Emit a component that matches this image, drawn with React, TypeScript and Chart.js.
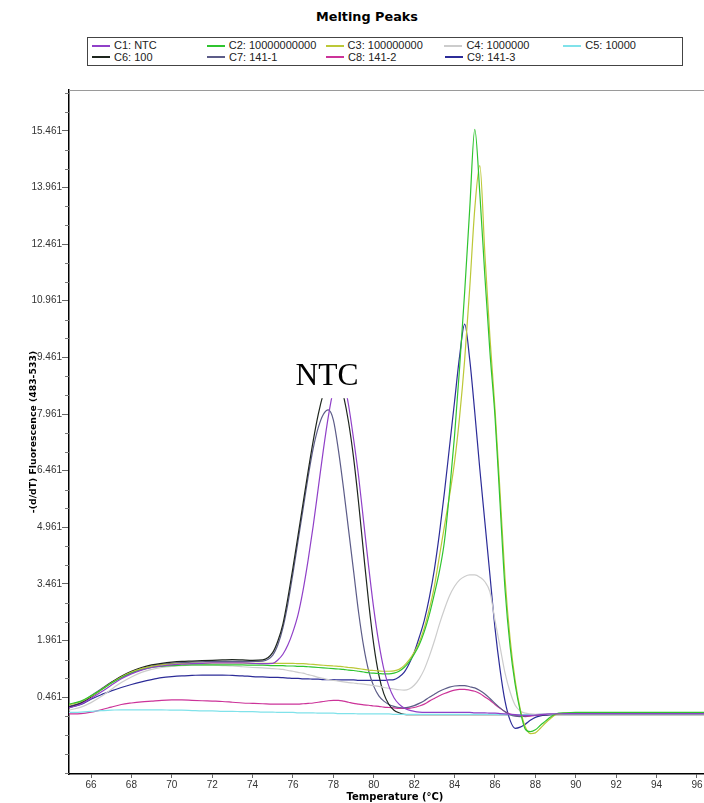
import { useEffect, useRef } from 'react';
import { Chart, registerables } from 'chart.js';

Chart.register(...registerables);

// Temperature grid (°C)
const TEMPS = [
  64.9, 65.5, 66, 66.5, 67, 67.5, 68, 68.5, 69, 69.5, 70, 70.5, 71, 71.5, 72, 72.5, 73, 73.5, 74, 74.5,
  75, 75.25, 75.5, 75.75, 76, 76.25, 76.5, 76.75,
  77, 77.25, 77.5, 77.75, 78, 78.25, 78.5, 78.75,
  79, 79.25, 79.5, 79.75, 80, 80.25, 80.5, 80.75,
  81, 81.25, 81.5, 81.75, 82, 82.25, 82.5, 82.75,
  83, 83.25, 83.5, 83.75, 84, 84.25, 84.5, 84.75,
  85, 85.25, 85.5, 85.75, 86, 86.25, 86.5, 86.75,
  87, 87.25, 87.5, 87.75, 88, 88.25, 88.5, 88.75,
  89,
  89.5, 90, 91, 92, 93, 94, 95, 96, 97, 97.5,
];

const C1_NTC = [
  0.18, 0.28, 0.43, 0.60, 0.78, 0.95, 1.08, 1.18, 1.25, 1.29, 1.32, 1.34, 1.35, 1.36, 1.37, 1.37, 1.37, 1.37, 1.36, 1.35,
  1.36, 1.45, 1.60, 1.85, 2.20, 2.65, 3.30, 4.10,
  5.00, 6.00, 7.00, 7.90, 8.60, 9.00, 8.85, 8.20,
  7.30, 6.30, 5.10, 3.90, 2.80, 1.90, 1.20, 0.75,
  0.45, 0.28, 0.18, 0.12, 0.09, 0.07, 0.06, 0.06,
  0.06, 0.06, 0.06, 0.06, 0.06, 0.06, 0.06, 0.06,
  0.05, 0.05, 0.05, 0.04, 0.04, 0.03, 0.02, 0.01,
  0.00, -0.01, -0.02, -0.02, -0.01, 0.00, 0.01, 0.02,
  0.02,
  0.03, 0.03, 0.03, 0.03, 0.03, 0.03, 0.03, 0.03, 0.03, 0.03,
];

const C2_1E10 = [
  0.28, 0.36, 0.50, 0.66, 0.83, 0.98, 1.10, 1.19, 1.25, 1.28, 1.30, 1.31, 1.32, 1.32, 1.32, 1.32, 1.32, 1.32, 1.31, 1.31,
  1.30, 1.30, 1.30, 1.29, 1.29, 1.28, 1.28, 1.27,
  1.26, 1.25, 1.24, 1.23, 1.22, 1.21, 1.20, 1.18,
  1.17, 1.15, 1.13, 1.11, 1.10, 1.09, 1.08, 1.08,
  1.10, 1.15, 1.25, 1.40, 1.60, 1.85, 2.20, 2.65,
  3.20, 3.80, 4.60, 5.90, 7.40, 9.20, 11.20, 13.40,
  15.50, 13.80, 11.60, 9.60, 7.90, 5.60, 3.30, 1.80,
  0.80, 0.10, -0.38, -0.45, -0.40, -0.28, -0.17, -0.06,
  0.02,
  0.05, 0.06, 0.06, 0.06, 0.06, 0.06, 0.06, 0.06, 0.06, 0.06,
];

const C3_1E8 = [
  0.26, 0.35, 0.49, 0.66, 0.84, 1.00, 1.13, 1.22, 1.28, 1.32, 1.34, 1.35, 1.36, 1.36, 1.37, 1.37, 1.37, 1.37, 1.36, 1.36,
  1.36, 1.36, 1.36, 1.36, 1.36, 1.35, 1.35, 1.34,
  1.33, 1.32, 1.31, 1.30, 1.29, 1.28, 1.27, 1.25,
  1.24, 1.22, 1.20, 1.18, 1.17, 1.16, 1.15, 1.15,
  1.16, 1.20, 1.30, 1.45, 1.65, 1.92, 2.30, 2.80,
  3.40, 4.20, 5.00, 5.80, 6.70, 7.90, 9.40, 11.30,
  13.40, 14.54, 12.20, 10.00, 8.10, 5.90, 3.60, 2.00,
  0.90, 0.15, -0.32, -0.50, -0.48, -0.36, -0.22, -0.10,
  0.00,
  0.04, 0.05, 0.05, 0.05, 0.05, 0.05, 0.05, 0.05, 0.05, 0.05,
];

const C4_1E6 = [
  0.12, 0.20, 0.32, 0.48, 0.67, 0.85, 1.00, 1.12, 1.20, 1.25, 1.28, 1.30, 1.31, 1.31, 1.31, 1.30, 1.29, 1.27, 1.25, 1.24,
  1.22, 1.21, 1.20, 1.17, 1.15, 1.12, 1.10, 1.06,
  1.03, 0.99, 0.96, 0.93, 0.91, 0.89, 0.87, 0.85,
  0.84, 0.82, 0.81, 0.79, 0.77, 0.75, 0.72, 0.70,
  0.68, 0.66, 0.65, 0.68, 0.78, 0.95, 1.20, 1.55,
  1.95, 2.40, 2.80, 3.15, 3.40, 3.57, 3.66, 3.70,
  3.70, 3.64, 3.52, 3.25, 2.50, 1.80, 1.10, 0.60,
  0.25, 0.10, 0.04, 0.02, 0.01, 0.01, 0.01, 0.02,
  0.02,
  0.02, 0.02, 0.02, 0.02, 0.02, 0.02, 0.02, 0.02, 0.02, 0.02,
];

const C5_1E4 = [
  0.06, 0.07, 0.09, 0.11, 0.12, 0.13, 0.13, 0.13, 0.13, 0.13, 0.12, 0.12, 0.11, 0.10, 0.10, 0.09, 0.09, 0.08, 0.08, 0.07,
  0.07, 0.06, 0.06, 0.06, 0.06, 0.05, 0.05, 0.05,
  0.05, 0.04, 0.04, 0.04, 0.04, 0.03, 0.03, 0.03,
  0.03, 0.02, 0.02, 0.02, 0.02, 0.02, 0.02, 0.02,
  0.01, 0.01, 0.01, 0.01, 0.01, 0.01, 0.01, 0.01,
  0.01, 0.01, 0.01, 0.01, 0.01, 0.01, 0.01, 0.01,
  0.01, 0.01, 0.01, 0.01, 0.01, 0.00, 0.00, 0.00,
  0.00, 0.00, 0.00, 0.00, 0.00, 0.01, 0.01, 0.02,
  0.02,
  0.02, 0.02, 0.02, 0.02, 0.02, 0.02, 0.02, 0.02, 0.02, 0.02,
];

const C6_100 = [
  0.20, 0.30, 0.47, 0.66, 0.85, 1.02, 1.15, 1.25, 1.32, 1.36, 1.39, 1.41, 1.42, 1.43, 1.44, 1.45, 1.46, 1.45, 1.44, 1.45,
  1.65, 1.95, 2.40, 3.10, 3.90, 4.75, 5.60, 6.45,
  7.25, 7.95, 8.50, 8.90, 9.05, 8.95, 8.45, 7.75,
  6.80, 5.60, 4.25, 2.95, 1.85, 1.05, 0.55, 0.27,
  0.12, 0.05, 0.01, 0.00, 0.00, 0.00, 0.00, 0.00,
  0.00, 0.00, 0.00, 0.00, 0.00, 0.00, 0.00, 0.00,
  0.00, 0.00, 0.00, 0.00, 0.00, 0.00, 0.00, 0.00,
  0.00, 0.00, 0.00, 0.00, 0.00, 0.00, 0.00, 0.00,
  0.00,
  0.00, 0.00, 0.00, 0.00, 0.00, 0.00, 0.00, 0.00, 0.00, 0.00,
];

const C7_141_1 = [
  0.22, 0.32, 0.50, 0.68, 0.86, 1.00, 1.12, 1.22, 1.29, 1.33, 1.36, 1.38, 1.39, 1.40, 1.41, 1.41, 1.41, 1.41, 1.41, 1.42,
  1.58, 1.85, 2.30, 2.95, 3.75, 4.60, 5.45, 6.30,
  7.05, 7.60, 7.95, 8.07, 7.80, 7.00, 6.00, 4.90,
  3.80, 2.70, 1.80, 1.15, 0.75, 0.50, 0.36, 0.27,
  0.22, 0.19, 0.18, 0.20, 0.24, 0.30, 0.37, 0.46,
  0.54, 0.62, 0.68, 0.73, 0.76, 0.77, 0.77, 0.74,
  0.71, 0.64, 0.55, 0.43, 0.30, 0.18, 0.08, 0.00,
  -0.04, -0.05, -0.04, -0.02, 0.00, 0.01, 0.01, 0.02,
  0.02,
  0.02, 0.02, 0.02, 0.02, 0.02, 0.02, 0.02, 0.02, 0.02, 0.02,
];

const C8_141_2 = [
  0.02, 0.03, 0.07, 0.13, 0.20, 0.27, 0.31, 0.34, 0.36, 0.38, 0.39, 0.39, 0.38, 0.37, 0.36, 0.35, 0.33, 0.31, 0.30, 0.29,
  0.28, 0.28, 0.28, 0.28, 0.28, 0.28, 0.29, 0.30,
  0.31, 0.33, 0.35, 0.37, 0.38, 0.38, 0.36, 0.33,
  0.30, 0.28, 0.26, 0.25, 0.23, 0.22, 0.20, 0.19,
  0.18, 0.17, 0.17, 0.17, 0.19, 0.23, 0.28, 0.36,
  0.43, 0.50, 0.56, 0.61, 0.65, 0.67, 0.67, 0.65,
  0.62, 0.56, 0.47, 0.38, 0.27, 0.17, 0.08, 0.02,
  -0.02, -0.04, -0.05, -0.04, -0.02, 0.00, 0.01, 0.02,
  0.02,
  0.02, 0.02, 0.02, 0.02, 0.02, 0.02, 0.02, 0.02, 0.02, 0.02,
];

const C9_141_3 = [
  0.19, 0.27, 0.41, 0.53, 0.63, 0.72, 0.80, 0.87, 0.93, 0.98, 1.01, 1.03, 1.04, 1.05, 1.05, 1.05, 1.04, 1.03, 1.01, 1.00,
  0.99, 0.99, 0.98, 0.97, 0.96, 0.96, 0.95, 0.95,
  0.94, 0.94, 0.93, 0.93, 0.93, 0.92, 0.92, 0.92,
  0.92, 0.91, 0.91, 0.91, 0.91, 0.91, 0.91, 0.92,
  0.93, 1.00, 1.12, 1.35, 1.65, 2.05, 2.50, 3.10,
  3.85, 4.80, 5.90, 7.10, 8.30, 9.50, 10.34, 9.40,
  8.00, 6.50, 5.10, 3.70, 2.30, 1.20, 0.35, -0.15,
  -0.36, -0.33, -0.25, -0.15, -0.07, -0.03, -0.01, 0.00,
  0.01,
  0.02, 0.02, 0.02, 0.02, 0.02, 0.02, 0.02, 0.02, 0.02, 0.02,
];

const SERIES = [C1_NTC, C2_1E10, C3_1E8, C4_1E6, C5_1E4, C6_100, C7_141_1, C8_141_2, C9_141_3];
const SERIES_LABELS = [
  'C1: NTC', 'C2: 10000000000', 'C3: 100000000', 'C4: 1000000', 'C5: 10000',
  'C6: 100', 'C7: 141-1', 'C8: 141-2', 'C9: 141-3',
];
const SERIES_COLORS = [
  '#9040c8', '#2fc42f', '#bcc838', '#cccccc', '#80e2ea',
  '#1e261e', '#5c5c88', '#cc3399', '#2c2c98',
];

const X_TICKS = [66, 68, 70, 72, 74, 76, 78, 80, 82, 84, 86, 88, 90, 92, 94, 96];
const Y_TICKS = [0.461, 1.961, 3.461, 4.961, 6.461, 7.961, 9.461, 10.961, 12.461, 13.961, 15.461];
const Y_MINOR = [
  -1.539, -1.039, -0.539, -0.039, 0.961, 1.461, 2.461, 2.961, 3.961, 4.461, 5.461, 5.961,
  6.961, 7.461, 8.461, 8.961, 9.961, 10.461, 11.461, 11.961, 12.961, 13.461, 14.461, 14.961,
  15.961, 16.461,
];

// NTC annotation (data units) and white cover box over peak tops
const NTC_LABEL = { text: 'NTC', t: 77.68, v: 8.72 };
const COVER_T = [77.05, 79.25];
const COVER_V = [8.38, 9.9];

const X_RANGE = [64.91, 97.19];
const Y_RANGE = [-1.57, 16.54];

const extrasPlugin = {
  id: 'extras',
  afterDatasetsDraw(chart: any) {
    const { ctx, scales } = chart;
    const x = scales.x;
    const y = scales.y;
    ctx.save();
    const x0 = x.getPixelForValue(COVER_T[0]);
    const x1 = x.getPixelForValue(COVER_T[1]);
    const y0 = y.getPixelForValue(COVER_V[1]);
    const y1 = y.getPixelForValue(COVER_V[0]);
    ctx.fillStyle = '#ffffff';
    ctx.fillRect(x0, y0, x1 - x0, y1 - y0);
    ctx.fillStyle = '#000000';
    ctx.font = '31.5px "Liberation Serif", "Times New Roman", serif';
    ctx.textAlign = 'center';
    ctx.textBaseline = 'alphabetic';
    ctx.fillText(NTC_LABEL.text, x.getPixelForValue(NTC_LABEL.t), y.getPixelForValue(NTC_LABEL.v));
    ctx.restore();
  },
  afterDraw(chart: any) {
    const { ctx, chartArea, scales } = chart;
    const y = scales.y;
    ctx.save();
    ctx.strokeStyle = '#777777';
    ctx.lineWidth = 1;
    ctx.beginPath();
    for (const v of Y_MINOR) {
      const py = Math.round(y.getPixelForValue(v)) + 0.5;
      if (py < chartArea.top || py > chartArea.bottom) continue;
      ctx.moveTo(chartArea.left - 4, py);
      ctx.lineTo(chartArea.left, py);
    }
    ctx.stroke();
    ctx.strokeStyle = '#9a9a9a';
    ctx.beginPath();
    ctx.moveTo(chartArea.left, chartArea.top + 0.5);
    ctx.lineTo(chartArea.right, chartArea.top + 0.5);
    ctx.stroke();
    ctx.restore();
  },
};

function Legend() {
  const rows = [SERIES_LABELS.slice(0, 5), SERIES_LABELS.slice(5)];
  return (
    <div
      style={{
        position: 'absolute', left: 87, top: 37, width: 594, height: 25,
        border: '1px solid #444', background: '#fff', paddingTop: 2, boxSizing: 'content-box',
      }}
    >
      {rows.map((row, r) => (
        <div key={r} style={{ display: 'flex', height: 11.5 }}>
          {row.map((lab, c) => {
            const idx = r * 5 + c;
            return (
              <div key={lab} style={{ width: 119, display: 'flex', alignItems: 'center', paddingLeft: c === 0 ? 4 : 0, boxSizing: 'border-box' }}>
                <div style={{ width: 18, height: 2, background: SERIES_COLORS[idx], marginRight: 4, flex: 'none' }} />
                <span style={{ font: '11px "Liberation Sans", Arial, sans-serif', color: '#222', lineHeight: '11.5px', whiteSpace: 'nowrap' }}>{lab}</span>
              </div>
            );
          })}
        </div>
      ))}
    </div>
  );
}

export default function App() {
  const canvasRef = useRef<HTMLCanvasElement | null>(null);

  useEffect(() => {
    const canvas = canvasRef.current;
    if (!canvas) return;
    const chart = new Chart(canvas, {
      type: 'line',
      data: {
        datasets: SERIES.map((vals, i) => ({
          label: SERIES_LABELS[i],
          data: TEMPS.map((t, j) => ({ x: t, y: vals[j] })),
          borderColor: SERIES_COLORS[i],
          backgroundColor: SERIES_COLORS[i],
          borderWidth: 1.2,
          pointRadius: 0,
          fill: false,
          cubicInterpolationMode: 'monotone' as const,
        })),
      },
      options: {
        responsive: false,
        animation: false,
        devicePixelRatio: 1,
        events: [],
        layout: { padding: { top: 10, right: 19, left: 0, bottom: 0 } },
        plugins: {
          legend: { display: false },
          title: { display: false },
          tooltip: { enabled: false },
        },
        scales: {
          x: {
            type: 'linear',
            min: X_RANGE[0],
            max: X_RANGE[1],
            afterBuildTicks: (s: any) => { s.ticks = X_TICKS.map((v) => ({ value: v })); },
            afterFit: (s: any) => { s.height = 29; },
            grid: { display: true, drawOnChartArea: false, drawTicks: true, tickLength: 4, color: '#666' },
            border: { display: true, color: '#000', width: 1.5 },
            ticks: {
              autoSkip: false, maxRotation: 0, padding: 1, color: '#333',
              font: { family: '"Liberation Sans", Arial, sans-serif', size: 10 },
              callback: (v: any) => String(v),
            },
            title: {
              display: true, text: 'Temperature (°C)', color: '#000', padding: 0,
              font: { family: '"DejaVu Sans", Verdana, sans-serif', size: 10, weight: 'bold' },
            },
          },
          y: {
            type: 'linear',
            min: Y_RANGE[0],
            max: Y_RANGE[1],
            afterBuildTicks: (s: any) => { s.ticks = Y_TICKS.map((v) => ({ value: v })); },
            afterFit: (s: any) => { s.width = 69; },
            grid: { display: true, drawOnChartArea: false, drawTicks: true, tickLength: 7, color: '#666' },
            border: { display: true, color: '#000', width: 1.5 },
            ticks: {
              autoSkip: false, padding: 0, color: '#333',
              font: { family: '"Liberation Sans", Arial, sans-serif', size: 10 },
              callback: (v: any) => Number(v).toFixed(3),
            },
            title: {
              display: true, text: '-(d/dT) Fluorescence (483-533)', color: '#000',
              padding: { top: 28, bottom: 0 },
              font: { family: '"DejaVu Sans", Verdana, sans-serif', size: 9.3, weight: 'bold' },
            },
          },
        },
      },
      plugins: [extrasPlugin],
    } as any);
    return () => chart.destroy();
  }, []);

  return (
    <div style={{ position: 'absolute', left: 0, top: 0, width: 704, height: 803, overflow: 'hidden', background: '#fff' }}>
      <div
        style={{
          position: 'absolute', left: 267, top: 8, width: 200, textAlign: 'center',
          font: 'bold 12.8px "DejaVu Sans", Verdana, sans-serif', color: '#000', lineHeight: '18px',
        }}
      >
        Melting Peaks
      </div>
      <Legend />
      <canvas
        ref={canvasRef}
        width={740}
        height={723}
        style={{ position: 'absolute', left: 0, top: 80, width: 740, height: 723 }}
      />
    </div>
  );
}
